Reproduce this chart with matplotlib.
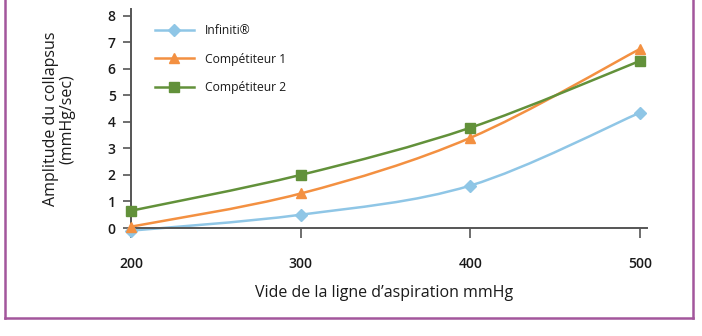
import numpy as np
import matplotlib
matplotlib.use("Agg")
import matplotlib.pyplot as plt
from matplotlib.path import Path
from matplotlib.patches import PathPatch
from matplotlib.lines import Line2D

plt.rcParams['font.family'] = ['Open Sans', 'DejaVu Sans']

vacuum = [200, 300, 400, 500]
infiniti = [-0.1, 0.5, 1.6, 4.35]
competitor_1 = [0.05, 1.3, 3.4, 6.75]
competitor_2 = [0.65, 2.0, 3.78, 6.3]
series_names = ["Infiniti®", "Compétiteur 1", "Compétiteur 2"]
y_ticks = [0, 1, 2, 3, 4, 5, 6, 7, 8]
x_ticks = [200, 300, 400, 500]

colors = ["#8fc6e6", "#f39041", "#62913a"]
markers = ["D", "^", "s"]
axis_col = "#555555"
border_col = "#a3569c"


def smooth_path(xs, ys):
    # catmull-rom turned into cubic bezier segments
    xs = np.asarray(xs, float)
    ys = np.asarray(ys, float)
    n = len(xs)
    verts = [(xs[0], ys[0])]
    codes = [Path.MOVETO]
    for i in range(n - 1):
        i0 = max(i - 1, 0)
        i3 = min(i + 2, n - 1)
        c1 = (xs[i] + (xs[i + 1] - xs[i0]) / 6, ys[i] + (ys[i + 1] - ys[i0]) / 6)
        c2 = (xs[i + 1] - (xs[i3] - xs[i]) / 6, ys[i + 1] - (ys[i3] - ys[i]) / 6)
        verts += [c1, c2, (xs[i + 1], ys[i + 1])]
        codes += [Path.CURVE4] * 3
    return Path(verts, codes)


fig = plt.figure(figsize=(7.02, 3.36), dpi=100)
ax = fig.add_axes([131 / 702, 1 - 228 / 336, (647 - 131) / 702, (228 - 9) / 336])

handles = []
for ys, c, m, name in zip([infiniti, competitor_1, competitor_2], colors, markers, series_names):
    ax.add_patch(PathPatch(smooth_path(vacuum, ys), facecolor="none", edgecolor=c,
                           lw=1.8, clip_on=False, zorder=2))
    ms = 7 if m != "D" else 6.5
    ax.plot(vacuum, ys, linestyle="none", marker=m, color=c, ms=ms, clip_on=False, zorder=3)
    handles.append(Line2D([], [], color=c, lw=1.8, marker=m, ms=ms))

ax.set_xlim(200, 504)
ax.set_ylim(0, 8.25)
ax.set_xticks(x_ticks)
ax.set_yticks(y_ticks)
ax.spines[["top", "right"]].set_visible(False)
for s in ["left", "bottom"]:
    ax.spines[s].set_color(axis_col)
    ax.spines[s].set_linewidth(1.4)
ax.tick_params(axis="y", direction="out", length=6, width=1.2, color=axis_col,
               pad=5, labelsize=10, labelcolor="#1a1a1a")
ax.tick_params(axis="x", direction="out", length=7, width=1.2, color=axis_col,
               pad=14, labelsize=10, labelcolor="#1a1a1a")
for lab in ax.get_xticklabels() + ax.get_yticklabels():
    lab.set_fontweight("semibold")

ax.legend(handles, series_names, loc="upper left", bbox_to_anchor=(155 / 702, 1 - 24 / 336),
          bbox_transform=fig.transFigure, frameon=False, fontsize=8.7, handlelength=3.2,
          handletextpad=0.95, labelspacing=1.3, borderaxespad=0, borderpad=0,
          labelcolor="#1a1a1a")

fig.text(384 / 702, 1 - 293 / 336, "Vide de la ligne d\u2019aspiration mmHg",
         ha="center", va="center", fontsize=11.5, color="#1a1a1a")
fig.text(59 / 702, 1 - 119 / 336, "Amplitude du collapsus\n(mmHg/sec)", rotation=90,
         ha="center", va="center", multialignment="center", fontsize=11.5,
         color="#1a1a1a", linespacing=1.05)

# purple frame around the figure (top is cut off in the reference)
fig.add_artist(Line2D([5 / 702, 5 / 702], [1, 1 - 318 / 336], color=border_col, lw=1.8,
                      transform=fig.transFigure))
fig.add_artist(Line2D([5 / 702, 693 / 702], [1 - 318 / 336, 1 - 318 / 336], color=border_col,
                      lw=1.8, transform=fig.transFigure))
fig.add_artist(Line2D([693 / 702, 693 / 702], [1, 1 - 318 / 336], color=border_col, lw=1.8,
                      transform=fig.transFigure))

fig.savefig("out.png", dpi=100)
